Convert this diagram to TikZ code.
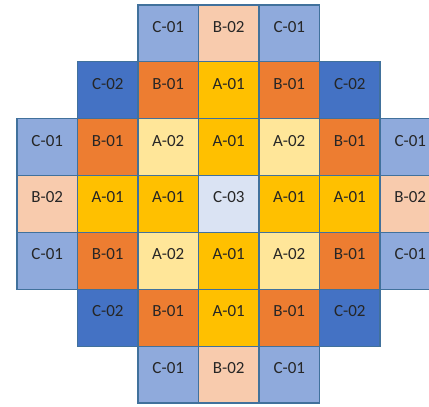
\documentclass[tikz,border=0pt]{standalone}
\usepackage{fontspec}
\setmainfont{Carlito}
\definecolor{cone}{HTML}{8FAADC}
\definecolor{ctwo}{HTML}{4472C4}
\definecolor{cthree}{HTML}{DAE3F3}
\definecolor{bone}{HTML}{ED7D31}
\definecolor{btwo}{HTML}{F8CBAD}
\definecolor{aone}{HTML}{FFC000}
\definecolor{atwo}{HTML}{FFE699}
\definecolor{bordc}{HTML}{41719C}
\definecolor{txt}{HTML}{262626}
\begin{document}
\begin{tikzpicture}[x=1pt,y=-1pt,
  cell/.style={draw=bordc, line width=1.1pt, minimum width=60.5pt, minimum height=56.85pt,
    inner sep=0pt, font=\fontsize{17}{20}\selectfont, text=txt, anchor=center}]
\useasboundingbox (0,0) rectangle (429,407);
\foreach \r/\c/\t/\f in {
  0/2/C-01/cone, 0/3/B-02/btwo, 0/4/C-01/cone,
  1/1/C-02/ctwo, 1/2/B-01/bone, 1/3/A-01/aone, 1/4/B-01/bone, 1/5/C-02/ctwo,
  2/0/C-01/cone, 2/1/B-01/bone, 2/2/A-02/atwo, 2/3/A-01/aone, 2/4/A-02/atwo, 2/5/B-01/bone, 2/6/C-01/cone,
  3/0/B-02/btwo, 3/1/A-01/aone, 3/2/A-01/aone, 3/3/C-03/cthree, 3/4/A-01/aone, 3/5/A-01/aone, 3/6/B-02/btwo,
  4/0/C-01/cone, 4/1/B-01/bone, 4/2/A-02/atwo, 4/3/A-01/aone, 4/4/A-02/atwo, 4/5/B-01/bone, 4/6/C-01/cone,
  5/1/C-02/ctwo, 5/2/B-01/bone, 5/3/A-01/aone, 5/4/B-01/bone, 5/5/C-02/ctwo,
  6/2/C-01/cone, 6/3/B-02/btwo, 6/4/C-01/cone}
{
  \node[cell, fill=\f] (n\r\c) at ({17+60.5*(\c+0.5)}, {5+56.85*(\r+0.5)}) {\raisebox{6.5pt}[\height][\depth]{\t}};
}
\end{tikzpicture}
\end{document}
